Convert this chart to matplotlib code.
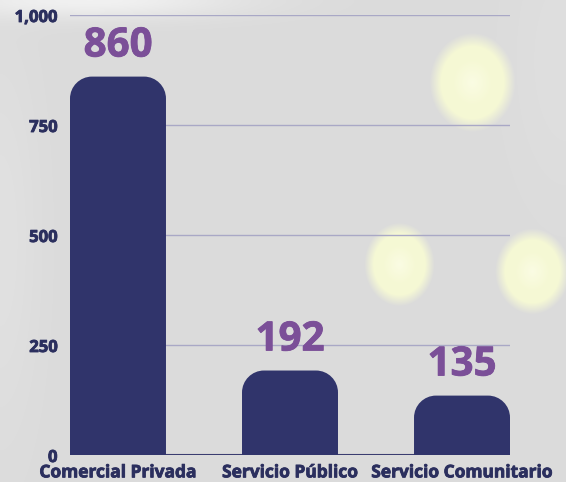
import numpy as np
import matplotlib
matplotlib.use("Agg")
import matplotlib.pyplot as plt
import matplotlib.patheffects as pe
from matplotlib.path import Path
from matplotlib.patches import PathPatch
from matplotlib.ticker import FuncFormatter

categories = ["Comercial Privada", "Servicio Público", "Servicio Comunitario"]
values = [860, 192, 135]
yticks = [0, 250, 500, 750, 1000]

W, H, DPI = 566, 482, 100
plt.rcParams['font.family'] = ['Open Sans', 'DejaVu Sans']
fig = plt.figure(figsize=(W / DPI, H / DPI), dpi=DPI)

# background with soft decorative glows
bg = fig.add_axes([0, 0, 1, 1], zorder=-10)
yy, xx = np.mgrid[0:H, 0:W].astype(float)
base = (219 + 22 * np.exp(-(((xx - 90) / 150) ** 2 + (yy / 18) ** 2))
        + 6 * np.exp(-((xx / 40) ** 2 + ((yy - 240) / 200) ** 2))
        + 4 * np.exp(-(((xx - 566) / 60) ** 2 + ((yy - 60) / 150) ** 2)))
img = np.dstack([base, base, base]) / 255.0
blobs = [(472, 82, 39, 45), (399, 264, 32, 38), (532, 271, 34, 39)]
glow = np.array([247, 250, 212]) / 255.0
for cx, cy, rx, ry in blobs:
    d = np.sqrt(((xx - cx) / rx) ** 2 + ((yy - cy) / ry) ** 2)
    a = np.clip((1.1 - d) / 0.3, 0, 1) * 0.95
    img = img * (1 - a[..., None]) + glow * a[..., None]
    c = np.clip(1 - d / 0.5, 0, 1) * 0.5
    img = img * (1 - c[..., None]) + np.array([1, 1, 0.95]) * c[..., None]
bg.imshow(np.clip(img, 0, 1), extent=[0, W, H, 0], aspect='auto')
bg.axis('off')

ax = fig.add_axes([70 / W, (H - 455) / H, 440 / W, 440 / H])
ax.set_facecolor('none')
x = np.arange(len(categories))
width = 0.558
bars = ax.bar(x, values, width=width, color='none', edgecolor='none')
ax.set_xlim(-width / 2, len(categories) - 1 + width / 2)
ax.set_ylim(0, 1000)
ax.set_yticks(yticks)
ax.yaxis.set_major_formatter(FuncFormatter(lambda v, p: f"{int(v):,}"))
ax.grid(axis='y', color='#a9a8c6', linewidth=1.0)
ax.set_axisbelow(True)
for s in ax.spines.values():
    s.set_visible(False)
ax.axhline(0, color='#3a3d70', linewidth=1.5, zorder=2)
ax.tick_params(axis='y', length=0, pad=9, labelsize=12, labelcolor='#2b2f5e')
ax.tick_params(axis='x', length=0, pad=6, labelsize=12.5, labelcolor='#2b2f5e')
ax.set_xticks(x)
ax.set_xticklabels(categories, fontweight='bold')
thick = lambda col: [pe.withStroke(linewidth=0.6, foreground=col)]
for lab in ax.get_yticklabels() + ax.get_xticklabels():
    lab.set_fontweight('bold')
    lab.set_path_effects(thick('#2b2f5e'))

fig.canvas.draw()
r = 22
for b, v in zip(bars, values):
    (x0, y0), (x1, y1) = ax.transData.transform([(b.get_x(), 0), (b.get_x() + b.get_width(), v)])
    k = 0.5523
    verts = [(x0, y0), (x0, y1 - r), (x0, y1 - r + r * k), (x0 + r - r * k, y1), (x0 + r, y1),
             (x1 - r, y1), (x1 - r + r * k, y1), (x1, y1 - r + r * k), (x1, y1 - r),
             (x1, y0), (x0, y0)]
    codes = [Path.MOVETO, Path.LINETO, Path.CURVE4, Path.CURVE4, Path.CURVE4,
             Path.LINETO, Path.CURVE4, Path.CURVE4, Path.CURVE4, Path.LINETO, Path.CLOSEPOLY]
    p = PathPatch(Path(verts, codes), facecolor='#30346b', edgecolor='none',
                  transform=None, zorder=3)
    fig.add_artist(p)
    ax.annotate(f"{v}", (b.get_x() + b.get_width() / 2, v), xytext=(0, 8),
                textcoords='offset points', ha='center', va='bottom',
                fontsize=29, fontweight='bold', color='#7b4f98', zorder=4,
                path_effects=thick('#7b4f98'))

fig.savefig('out.png', dpi=DPI)
